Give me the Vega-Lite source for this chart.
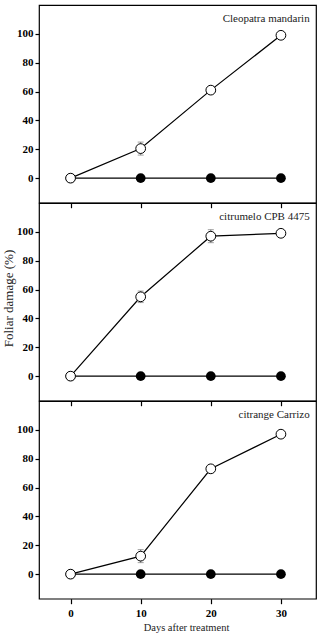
{
  "$schema": "https://vega.github.io/schema/vega-lite/v6.json",
  "autosize": {"type": "pad"},
  "padding": {"left": 1, "top": 4, "right": 3, "bottom": 4},
  "bounds": "flush",
  "spacing": 0,
  "datasets": {
    "damage": [
      {"rootstock": "Cleopatra mandarin", "series": "control", "day": 0, "damage": 0},
      {"rootstock": "Cleopatra mandarin", "series": "control", "day": 10, "damage": 0},
      {"rootstock": "Cleopatra mandarin", "series": "control", "day": 20, "damage": 0},
      {"rootstock": "Cleopatra mandarin", "series": "control", "day": 30, "damage": 0},
      {"rootstock": "Cleopatra mandarin", "series": "treated", "day": 0, "damage": 0, "lo": 0, "hi": 0},
      {"rootstock": "Cleopatra mandarin", "series": "treated", "day": 10, "damage": 20.5, "lo": 16, "hi": 25},
      {"rootstock": "Cleopatra mandarin", "series": "treated", "day": 20, "damage": 61, "lo": 59, "hi": 63},
      {"rootstock": "Cleopatra mandarin", "series": "treated", "day": 30, "damage": 99, "lo": 97, "hi": 101},
      {"rootstock": "citrumelo CPB 4475", "series": "control", "day": 0, "damage": 0},
      {"rootstock": "citrumelo CPB 4475", "series": "control", "day": 10, "damage": 0},
      {"rootstock": "citrumelo CPB 4475", "series": "control", "day": 20, "damage": 0},
      {"rootstock": "citrumelo CPB 4475", "series": "control", "day": 30, "damage": 0},
      {"rootstock": "citrumelo CPB 4475", "series": "treated", "day": 0, "damage": 0, "lo": 0, "hi": 0},
      {"rootstock": "citrumelo CPB 4475", "series": "treated", "day": 10, "damage": 55, "lo": 51, "hi": 59},
      {"rootstock": "citrumelo CPB 4475", "series": "treated", "day": 20, "damage": 97, "lo": 92.5, "hi": 101.5},
      {"rootstock": "citrumelo CPB 4475", "series": "treated", "day": 30, "damage": 99, "lo": 98, "hi": 100},
      {"rootstock": "citrange Carrizo", "series": "control", "day": 0, "damage": 0},
      {"rootstock": "citrange Carrizo", "series": "control", "day": 10, "damage": 0},
      {"rootstock": "citrange Carrizo", "series": "control", "day": 20, "damage": 0},
      {"rootstock": "citrange Carrizo", "series": "control", "day": 30, "damage": 0},
      {"rootstock": "citrange Carrizo", "series": "treated", "day": 0, "damage": 0, "lo": 0, "hi": 0},
      {"rootstock": "citrange Carrizo", "series": "treated", "day": 10, "damage": 12.5, "lo": 8, "hi": 17},
      {"rootstock": "citrange Carrizo", "series": "treated", "day": 20, "damage": 73, "lo": 71, "hi": 75},
      {"rootstock": "citrange Carrizo", "series": "treated", "day": 30, "damage": 97, "lo": 96, "hi": 98}
    ]
  },
  "config": {
    "view": {"stroke": "black", "strokeWidth": 1.2},
    "axis": {
      "grid": false,
      "domain": false,
      "tickColor": "black",
      "tickWidth": 1.2,
      "labelFont": "Liberation Serif",
      "labelFontWeight": "bold",
      "labelFontSize": 11,
      "labelColor": "black",
      "titleFont": "Liberation Serif",
      "titleFontWeight": "normal",
      "titleFontSize": 10.5,
      "titleColor": "#222"
    }
  },
  "vconcat": [
    {
      "width": 277,
      "height": 197.7,
      "data": {"name": "damage"},
      "transform": [{"filter": "datum.rootstock === 'Cleopatra mandarin'"}],
      "encoding": {
        "x": {"field": "day", "type": "quantitative", "scale": {"domain": [-4.5, 35], "nice": false},
              "axis": {"values": [0, 10, 20, 30], "labels": false, "title": null, "tickSize": 5}},
        "y": {"field": "damage", "type": "quantitative", "scale": {"domain": [-17, 120], "nice": false},
              "axis": {"values": [0, 20, 40, 60, 80, 100], "tickSize": 4, "labelPadding": 2, "title": null}}
      },
      "layer": [
        {"transform": [{"filter": "datum.series === 'control'"}], "mark": {"type": "line", "color": "black", "strokeWidth": 1.2}},
        {"transform": [{"filter": "datum.series === 'control'"}], "mark": {"type": "circle", "size": 95, "color": "black", "opacity": 1}},
        {"transform": [{"filter": "datum.series === 'treated'"}], "mark": {"type": "line", "color": "black", "strokeWidth": 1.2}},
        {"transform": [{"filter": "datum.series === 'treated'"}], "mark": {"type": "rule", "color": "#777", "strokeWidth": 1}, "encoding": {"y": {"field": "lo", "type": "quantitative"}, "y2": {"field": "hi"}}},
        {"transform": [{"filter": "datum.series === 'treated'"}], "mark": {"type": "tick", "color": "#777", "size": 6, "thickness": 1, "orient": "horizontal"}, "encoding": {"y": {"field": "lo", "type": "quantitative"}}},
        {"transform": [{"filter": "datum.series === 'treated'"}], "mark": {"type": "tick", "color": "#777", "size": 6, "thickness": 1, "orient": "horizontal"}, "encoding": {"y": {"field": "hi", "type": "quantitative"}}},
        {"transform": [{"filter": "datum.series === 'treated'"}], "mark": {"type": "point", "shape": "circle", "size": 95, "fill": "white", "stroke": "black", "strokeWidth": 1, "filled": false, "opacity": 1}},
        {"transform": [{"filter": "datum.series === 'treated' && datum.day === 30"}],
         "mark": {"type": "text", "align": "right", "baseline": "middle", "font": "Liberation Serif", "fontSize": 11, "color": "#222"},
         "encoding": {"text": {"field": "rootstock"}, "x": {"datum": 34.1}, "y": {"datum": 110.5}}}
      ]
    },
    {
      "width": 277,
      "height": 197.7,
      "data": {"name": "damage"},
      "transform": [{"filter": "datum.rootstock === 'citrumelo CPB 4475'"}],
      "encoding": {
        "x": {"field": "day", "type": "quantitative", "scale": {"domain": [-4.5, 35], "nice": false},
              "axis": {"values": [0, 10, 20, 30], "labels": false, "title": null, "tickSize": 5}},
        "y": {"field": "damage", "type": "quantitative", "scale": {"domain": [-17, 120], "nice": false},
              "axis": {"values": [0, 20, 40, 60, 80, 100], "tickSize": 4, "labelPadding": 2, "title": "Foliar damage (%)", "titleFontSize": 13, "titlePadding": 1, "titleY": 95}}
      },
      "layer": [
        {"transform": [{"filter": "datum.series === 'control'"}], "mark": {"type": "line", "color": "black", "strokeWidth": 1.2}},
        {"transform": [{"filter": "datum.series === 'control'"}], "mark": {"type": "circle", "size": 95, "color": "black", "opacity": 1}},
        {"transform": [{"filter": "datum.series === 'treated'"}], "mark": {"type": "line", "color": "black", "strokeWidth": 1.2}},
        {"transform": [{"filter": "datum.series === 'treated'"}], "mark": {"type": "rule", "color": "#777", "strokeWidth": 1}, "encoding": {"y": {"field": "lo", "type": "quantitative"}, "y2": {"field": "hi"}}},
        {"transform": [{"filter": "datum.series === 'treated'"}], "mark": {"type": "tick", "color": "#777", "size": 6, "thickness": 1, "orient": "horizontal"}, "encoding": {"y": {"field": "lo", "type": "quantitative"}}},
        {"transform": [{"filter": "datum.series === 'treated'"}], "mark": {"type": "tick", "color": "#777", "size": 6, "thickness": 1, "orient": "horizontal"}, "encoding": {"y": {"field": "hi", "type": "quantitative"}}},
        {"transform": [{"filter": "datum.series === 'treated'"}], "mark": {"type": "point", "shape": "circle", "size": 95, "fill": "white", "stroke": "black", "strokeWidth": 1, "filled": false, "opacity": 1}},
        {"transform": [{"filter": "datum.series === 'treated' && datum.day === 30"}],
         "mark": {"type": "text", "align": "right", "baseline": "middle", "font": "Liberation Serif", "fontSize": 11, "color": "#222"},
         "encoding": {"text": {"field": "rootstock"}, "x": {"datum": 34.1}, "y": {"datum": 110.5}}}
      ]
    },
    {
      "width": 277,
      "height": 197.7,
      "data": {"name": "damage"},
      "transform": [{"filter": "datum.rootstock === 'citrange Carrizo'"}],
      "encoding": {
        "x": {"field": "day", "type": "quantitative", "scale": {"domain": [-4.5, 35], "nice": false},
              "axis": {"values": [0, 10, 20, 30], "tickSize": 5, "labelPadding": 4, "title": "Days after treatment", "titlePadding": 4, "titleX": 147}},
        "y": {"field": "damage", "type": "quantitative", "scale": {"domain": [-17, 120], "nice": false},
              "axis": {"values": [0, 20, 40, 60, 80, 100], "tickSize": 4, "labelPadding": 2, "title": null}}
      },
      "layer": [
        {"transform": [{"filter": "datum.series === 'control'"}], "mark": {"type": "line", "color": "black", "strokeWidth": 1.2}},
        {"transform": [{"filter": "datum.series === 'control'"}], "mark": {"type": "circle", "size": 95, "color": "black", "opacity": 1}},
        {"transform": [{"filter": "datum.series === 'treated'"}], "mark": {"type": "line", "color": "black", "strokeWidth": 1.2}},
        {"transform": [{"filter": "datum.series === 'treated'"}], "mark": {"type": "rule", "color": "#777", "strokeWidth": 1}, "encoding": {"y": {"field": "lo", "type": "quantitative"}, "y2": {"field": "hi"}}},
        {"transform": [{"filter": "datum.series === 'treated'"}], "mark": {"type": "tick", "color": "#777", "size": 6, "thickness": 1, "orient": "horizontal"}, "encoding": {"y": {"field": "lo", "type": "quantitative"}}},
        {"transform": [{"filter": "datum.series === 'treated'"}], "mark": {"type": "tick", "color": "#777", "size": 6, "thickness": 1, "orient": "horizontal"}, "encoding": {"y": {"field": "hi", "type": "quantitative"}}},
        {"transform": [{"filter": "datum.series === 'treated'"}], "mark": {"type": "point", "shape": "circle", "size": 95, "fill": "white", "stroke": "black", "strokeWidth": 1, "filled": false, "opacity": 1}},
        {"transform": [{"filter": "datum.series === 'treated' && datum.day === 30"}],
         "mark": {"type": "text", "align": "right", "baseline": "middle", "font": "Liberation Serif", "fontSize": 11, "color": "#222"},
         "encoding": {"text": {"field": "rootstock"}, "x": {"datum": 34.1}, "y": {"datum": 110.5}}}
      ]
    }
  ]
}
